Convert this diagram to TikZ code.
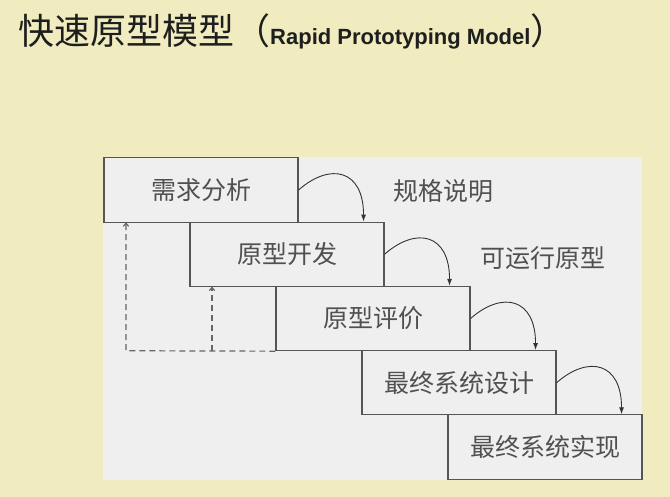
\documentclass[tikz,border=0pt]{standalone}
\usepackage{fontspec}
\setmainfont{Liberation Sans}
\newfontfamily\cjk{Noto Sans CJK SC}
\usetikzlibrary{calc,arrows.meta}
\definecolor{bgyellow}{RGB}{240,236,192}
\definecolor{panelgray}{RGB}{239,239,239}
\definecolor{boxline}{RGB}{85,85,85}
\definecolor{boxtext}{RGB}{80,80,80}
\definecolor{titletext}{RGB}{30,30,30}
\begin{document}
\begin{tikzpicture}[x=1pt,y=-1pt,
  stagebox/.style={draw=boxline, line width=1.1pt, fill=panelgray, minimum width=194pt, minimum height=64.25pt, inner sep=0pt, font=\cjk\fontsize{25}{28}\selectfont, text=boxtext},
  flow/.style={draw=black!80, line width=0.9pt, -{Latex[length=7pt,width=5pt]}},
  feedback/.style={draw=black!60, line width=1.2pt, dash pattern=on 6pt off 4pt, -{To[length=4pt,width=6pt]}},
  lbl/.style={font=\cjk\fontsize{25}{28}\selectfont, text=boxtext, inner sep=0pt}]
% background and panel
\fill[bgyellow] (0,0) rectangle (670,497);
\fill[panelgray] (103,157) rectangle (642,480);
% title
\node[anchor=west, inner sep=0pt, text=titletext] (title) at (18,31)
  {{\cjk\fontsize{36}{40}\selectfont 快速原型模型（}{\fontsize{22}{26}\selectfont\bfseries Rapid Prototyping Model}{\cjk\fontsize{36}{40}\selectfont ）}};
% boxes
\node[stagebox] (b1) at (201,190) {需求分析};
\node[stagebox] (b2) at (287,254.25) {原型开发};
\node[stagebox] (b3) at (373,318.5) {原型评价};
\node[stagebox] (b4) at (459,382.75) {最终系统设计};
\node[stagebox] (b5) at (545,447) {最终系统实现};
% labels
\node[lbl] (l1) at (443,191) {规格说明};
\node[lbl] (l2) at (543,258) {可运行原型};
% flow arrows
\coordinate (e2) at ($(b2.north east)+(-21,0)$);
\coordinate (e3) at ($(b3.north east)+(-21,0)$);
\coordinate (e4) at ($(b4.north east)+(-21,0)$);
\coordinate (e5) at ($(b5.north east)+(-21,0)$);
\draw[flow] (b1.east) .. controls ($(b1.east)+(32,-28)$) and ($(e2)+(0,-52)$) .. (e2);
\draw[flow] (b2.east) .. controls ($(b2.east)+(32,-28)$) and ($(e3)+(0,-52)$) .. (e3);
\draw[flow] (b3.east) .. controls ($(b3.east)+(32,-28)$) and ($(e4)+(0,-52)$) .. (e4);
\draw[flow] (b4.east) .. controls ($(b4.east)+(32,-28)$) and ($(e5)+(0,-52)$) .. (e5);
% feedback
\coordinate (fb1) at (126,350.75);
\coordinate (fb2) at (212,350.75);
\draw[feedback] (b3.south west) -- (fb1) -- (fb1 |- b1.south);
\draw[feedback] (fb2) -- (fb2 |- b2.south);
\end{tikzpicture}
\end{document}
